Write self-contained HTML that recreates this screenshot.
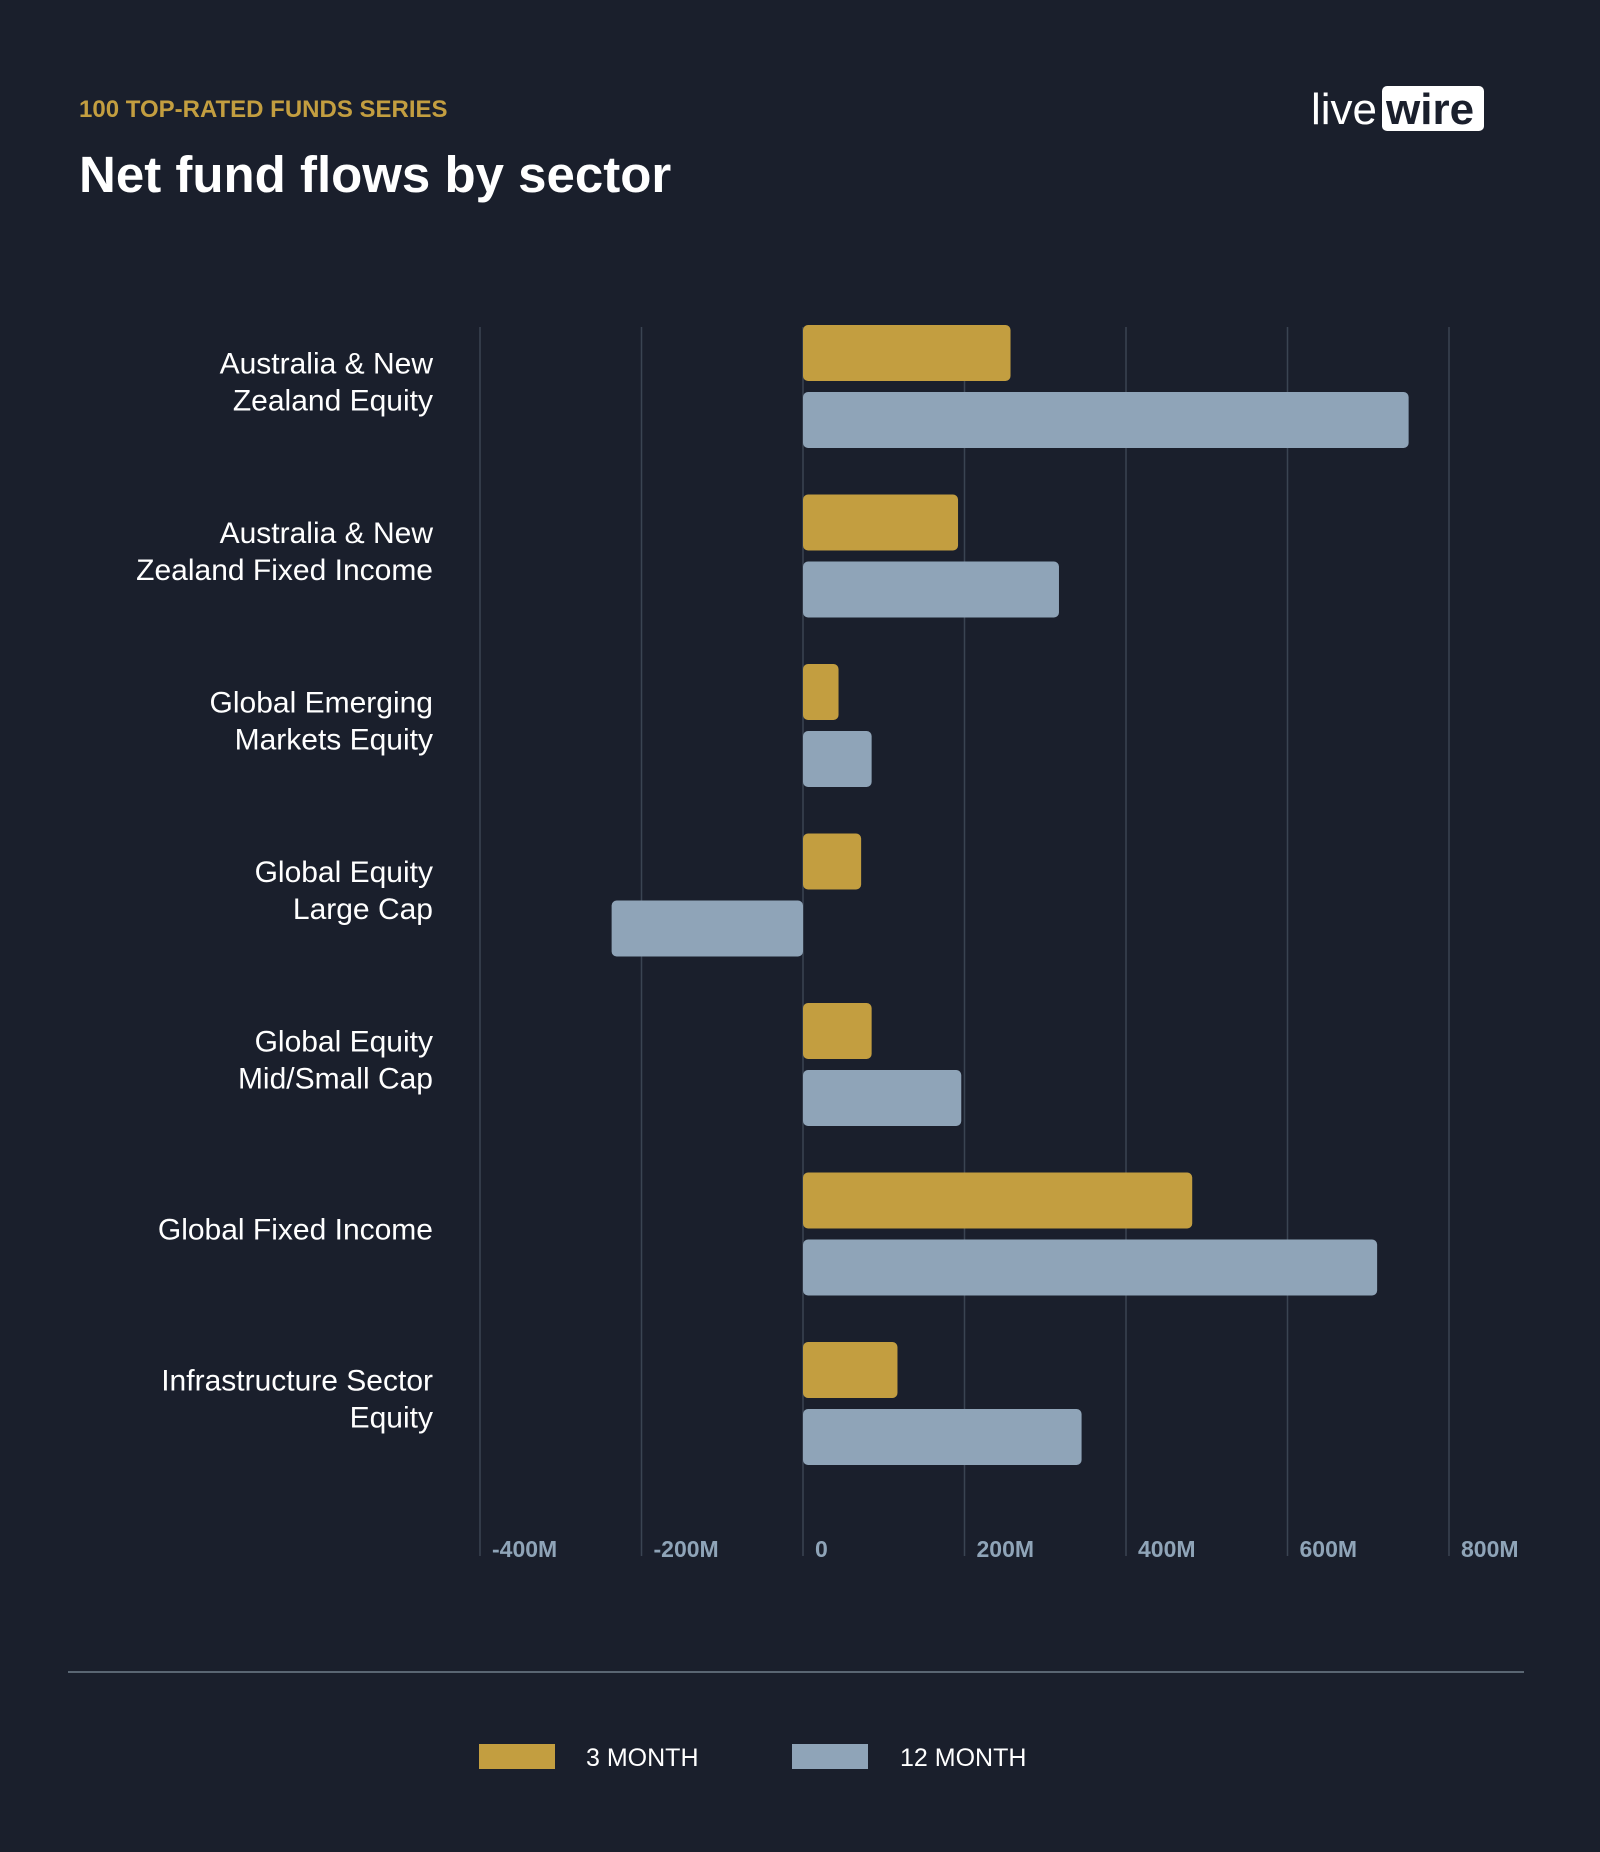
<!DOCTYPE html>
<html><head><meta charset="utf-8">
<style>
body{margin:0;background:#1a1f2c;width:1600px;height:1852px;overflow:hidden;font-family:"Liberation Sans",sans-serif;}
svg{display:block}
</style></head>
<body>
<svg id="chart" width="1600" height="1852" xmlns="http://www.w3.org/2000/svg">
<rect width="1600" height="1852" fill="#1a1f2c"/>
<text x="79" y="117" fill="#c39e40" font-size="24" font-weight="bold">100 TOP-RATED FUNDS SERIES</text>
<text x="79" y="192" fill="#ffffff" font-size="51" font-weight="bold">Net fund flows by sector</text>
<g>
<text x="1311" y="124" fill="#ffffff" font-size="44">live</text>
<rect x="1382" y="86" width="102" height="45" rx="5" fill="#ffffff"/>
<text x="1386" y="124" fill="#1a1f2c" font-size="44" font-weight="bold">wire</text>
</g>
<g id="grid"></g>
<g id="bars"></g>
<g id="labels"></g>
<line x1="68" y1="1672" x2="1524" y2="1672" stroke="#5a6673" stroke-width="2"/>
<rect x="479" y="1744" width="76" height="25" fill="#c39e40"/>
<text x="586" y="1766" fill="#ffffff" font-size="25">3 MONTH</text>
<rect x="792" y="1744" width="76" height="25" fill="#8fa4b8"/>
<text x="900" y="1766" fill="#ffffff" font-size="25">12 MONTH</text>
</svg>
<script>
const categories=[["Australia & New","Zealand Equity"],["Australia & New","Zealand Fixed Income"],["Global Emerging","Markets Equity"],["Global Equity","Large Cap"],["Global Equity","Mid/Small Cap"],["Global Fixed Income"],["Infrastructure Sector","Equity"]];
const threeMonth=[257,192,44,72,85,482,117];
const twelveMonth=[750,317,85,-237,196,711,345];
const tickValues=[-400,-200,0,200,400,600,800];
const tickLabels=["-400M","-200M","0","200M","400M","600M","800M"];
const NS="http://www.w3.org/2000/svg";
const x0=803, pxPer=161.5/200;
const xs=v=>x0+v*pxPer;
const groupTop=325, step=169.5, bh=56;
function mk(tag,attrs,parent){const e=document.createElementNS(NS,tag);for(const k in attrs)e.setAttribute(k,attrs[k]);document.getElementById(parent).appendChild(e);return e;}
tickValues.forEach((t,i)=>{
 const l=mk('line',{x1:xs(t),x2:xs(t),y1:327,y2:1556,stroke:'#3a4452','stroke-width':1.5},'grid');
 
 
 const tx=mk('text',{x:xs(t)+12,y:1557,fill:'#8fa4b8','font-size':23,'font-weight':'bold'},'grid');
 tx.textContent=tickLabels[i];
 
 
});
categories.forEach((c,i)=>{
 const y=groupTop+i*step;
 [[threeMonth[i],'#c39e40',y,'bar-3-month'],[twelveMonth[i],'#8fa4b8',y+67,'bar-12-month']].forEach(([v,col,yy,nm])=>{
  const a=Math.min(xs(0),xs(v)),w=Math.abs(xs(v)-xs(0));
  const r=mk('rect',{x:a,y:yy,width:w,height:bh,rx:5,fill:col},'bars');
  
  
 });
 const cy=y+57;
 const t=mk('text',{x:433,'text-anchor':'end',fill:'#ffffff','font-size':30},'labels');
 
 
 const start=cy-(c.length-1)*18.5+10;
 c.forEach((ln,j)=>{const s=mk('tspan',{x:433,y:start+j*37},'labels');t.appendChild(s);s.textContent=ln;});
});
</script>
</body></html>
